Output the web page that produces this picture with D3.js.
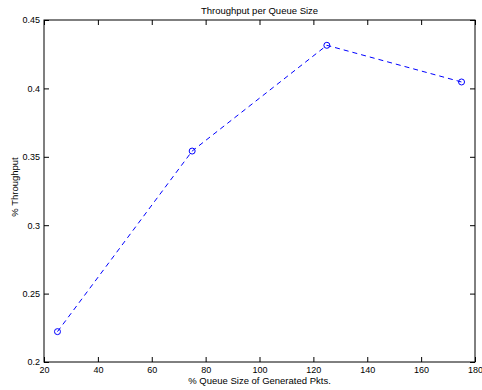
<!DOCTYPE html>
<html>
<head>
<meta charset="utf-8">
<script src="https://cdn.jsdelivr.net/npm/d3@7"></script>
<style>
  body { margin: 0; background: #fff; }
  svg { display: block; }
  text { font-family: "Liberation Sans", Arial, sans-serif; fill: #000; }
</style>
</head>
<body>
<div id="chart"></div>
<script>
const queueSizes = [25, 75, 125, 175];
const throughput = [0.2222, 0.3542, 0.4315, 0.4047];
const xTicks = [20, 40, 60, 80, 100, 120, 140, 160, 180];
const yTicks = [0.2, 0.25, 0.3, 0.35, 0.4, 0.45];

const width = 482;
const height = 390;
const margin = { top: 20, right: 7, bottom: 28, left: 44 };
const innerW = width - margin.left - margin.right;
const innerH = height - margin.top - margin.bottom;

const svg = d3.select('#chart')
  .append('svg')
  .attr('width', width)
  .attr('height', height);

const g = svg.append('g')
  .attr('transform', `translate(${margin.left}, ${margin.top})`);

const x = d3.scaleLinear().domain([20, 180]).range([0, innerW]);
const y = d3.scaleLinear().domain([0.2, 0.45]).range([innerH, 0]);

const fmtY = d => String(+d.toFixed(2));

// bottom axis, ticks point inward like matlab
const xAxis = g.append('g')
  .attr('transform', `translate(0, ${innerH})`)
  .call(d3.axisBottom(x).tickValues(xTicks).tickSizeInner(-5).tickSizeOuter(0).tickPadding(5));
xAxis.select('.domain').remove();
xAxis.selectAll('text').attr('font-size', 9);

// top ticks
g.append('g')
  .call(d3.axisTop(x).tickValues(xTicks).tickSizeInner(-5).tickSizeOuter(0).tickFormat(''))
  .select('.domain').remove();

const yAxis = g.append('g')
  .call(d3.axisLeft(y).tickValues(yTicks).tickFormat(fmtY).tickSizeInner(-5).tickSizeOuter(0).tickPadding(4));
yAxis.select('.domain').remove();
yAxis.selectAll('text').attr('font-size', 9);

// right ticks
g.append('g')
  .attr('transform', `translate(${innerW}, 0)`)
  .call(d3.axisRight(y).tickValues(yTicks).tickSizeInner(-5).tickSizeOuter(0).tickFormat(''))
  .select('.domain').remove();

g.append('rect')
  .attr('width', innerW)
  .attr('height', innerH)
  .attr('fill', 'none')
  .attr('stroke', '#000')
  .attr('stroke-width', 1);

const data = queueSizes.map((q, i) => ({ q, v: throughput[i] }));

const line = d3.line()
  .x(d => x(d.q))
  .y(d => y(d.v));

g.append('path')
  .datum(data)
  .attr('fill', 'none')
  .attr('stroke', '#0000ff')
  .attr('stroke-width', 1)
  .attr('stroke-dasharray', '5,4')
  .attr('d', line);

g.selectAll('circle.pt')
  .data(data)
  .enter().append('circle')
  .attr('class', 'pt')
  .attr('cx', d => x(d.q))
  .attr('cy', d => y(d.v))
  .attr('r', 3)
  .attr('fill', 'none')
  .attr('stroke', '#0000ff')
  .attr('stroke-width', 1);

svg.append('text')
  .attr('x', margin.left + innerW / 2)
  .attr('y', 14)
  .attr('text-anchor', 'middle')
  .attr('font-size', 9.5)
  .text('Throughput per Queue Size');

svg.append('text')
  .attr('x', margin.left + innerW / 2)
  .attr('y', 384)
  .attr('text-anchor', 'middle')
  .attr('font-size', 9.5)
  .text('% Queue Size of Generated Pkts.');

svg.append('text')
  .attr('transform', `translate(18, 187) rotate(-90)`)
  .attr('text-anchor', 'middle')
  .attr('font-size', 9.5)
  .text('% Throughput');
</script>
</body>
</html>
